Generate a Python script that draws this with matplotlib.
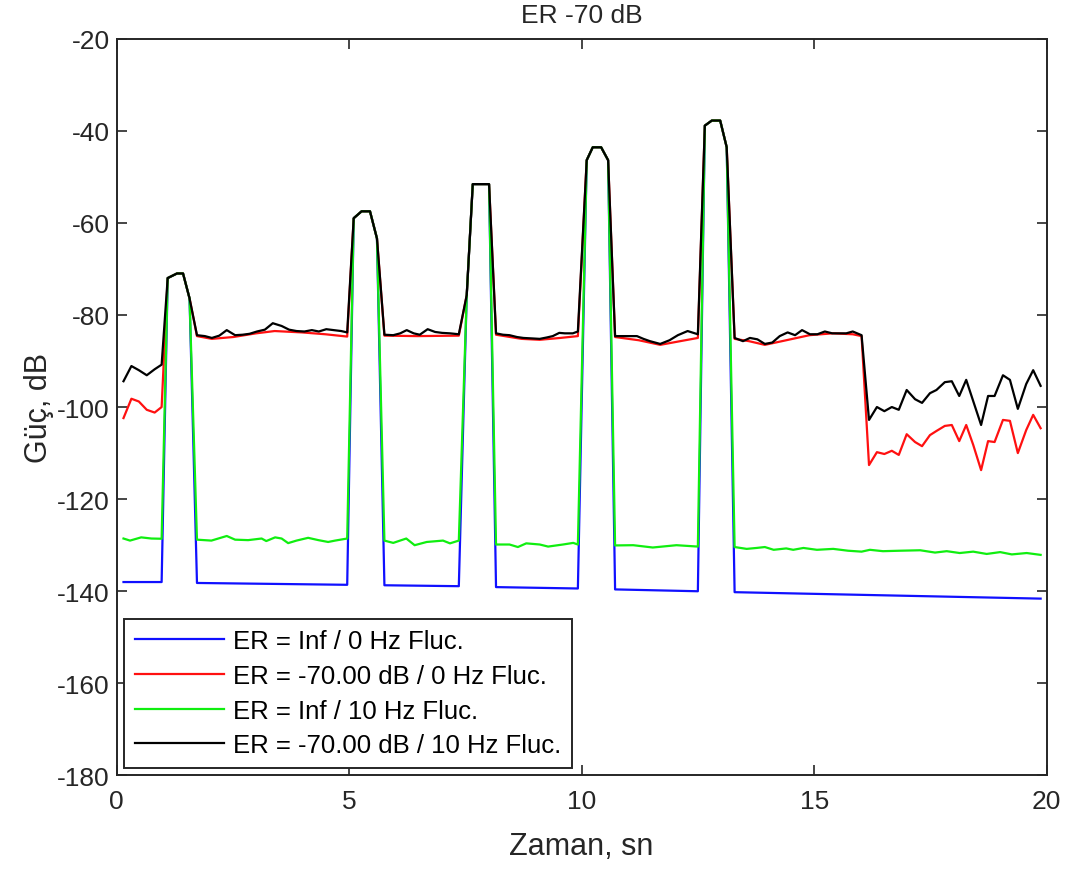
import matplotlib
matplotlib.use("Agg")
import matplotlib.pyplot as plt

plt.rcParams['font.family'] = ['Liberation Sans', 'DejaVu Sans']
plt.rcParams['axes.unicode_minus'] = False

title = "ER -70 dB"
xlabel = "Zaman, sn"
ylabel = "Güç, dB"
labels = ["ER = Inf / 0 Hz Fluc.",
          "ER = -70.00 dB / 0 Hz Fluc.",
          "ER = Inf / 10 Hz Fluc.",
          "ER = -70.00 dB / 10 Hz Fluc."]
xticks = [0, 5, 10, 15, 20]
yticks = [-180, -160, -140, -120, -100, -80, -60, -40, -20]

# Pulse interior points (shared by all four series)
pulse_t = [[1.10, 1.30, 1.43, 1.57],
           [5.10, 5.27, 5.45, 5.60],
           [7.53, 7.66, 8.01],
           [10.11, 10.24, 10.42, 10.57],
           [12.65, 12.80, 12.98, 13.12]]
pulse_v = [[-72.0, -71.0, -71.0, -76.4],
           [-59.0, -57.5, -57.5, -63.4],
           [-75.7, -51.6, -51.6],
           [-46.4, -43.6, -43.6, -46.4],
           [-38.9, -37.8, -37.8, -43.6]]

# Baseline segments between pulses, per series
blue_t = [[0.15, 0.97], [1.73, 4.96], [5.76, 7.36], [8.16, 9.92], [10.72, 12.50], [13.29, 19.87]]
blue_v = [[-138.0, -138.0], [-138.2, -138.6], [-138.7, -138.9], [-139.1, -139.4], [-139.6, -140.0], [-140.2, -141.6]]

red_t = [[0.15, 0.32, 0.48, 0.65, 0.82, 0.97],
         [1.73, 2.05, 2.51, 3.00, 3.40, 3.99, 4.49, 4.96],
         [5.76, 6.47, 7.36],
         [8.16, 8.71, 9.10, 9.54, 9.92],
         [10.72, 11.23, 11.69, 12.12, 12.50],
         [13.29, 13.60, 13.94, 14.40, 14.90, 15.40, 15.83, 16.02,
          16.18, 16.35, 16.51, 16.67, 16.82, 16.99, 17.17, 17.32, 17.49, 17.63, 17.81, 17.96,
          18.12, 18.27, 18.42, 18.59, 18.74, 18.88, 19.06, 19.21, 19.38, 19.56, 19.71, 19.87]]
red_v = [[-102.4, -98.2, -98.8, -100.6, -101.2, -100.0],
         [-84.6, -85.2, -84.8, -84.0, -83.5, -83.8, -84.2, -84.7],
         [-84.5, -84.6, -84.5],
         [-84.3, -85.2, -85.4, -85.0, -84.6],
         [-84.8, -85.5, -86.5, -85.7, -85.0],
         [-85.2, -85.7, -86.5, -85.5, -84.4, -84.0, -84.2, -84.6,
          -112.6, -109.8, -110.2, -109.5, -110.4, -105.9, -107.6, -108.5, -106.1, -105.2, -104.1, -103.9,
          -107.4, -103.9, -108.2, -113.7, -107.4, -107.6, -102.8, -103.0, -110.0, -105.0, -101.7, -104.6]]

green_t = [[0.15, 0.29, 0.53, 0.75, 0.97],
           [1.73, 2.04, 2.37, 2.55, 2.83, 3.12, 3.22, 3.41, 3.55, 3.69, 3.87, 4.12, 4.34, 4.55, 4.70, 4.96],
           [5.76, 5.95, 6.23, 6.41, 6.67, 7.02, 7.17, 7.36],
           [8.16, 8.45, 8.63, 8.81, 9.10, 9.28, 9.60, 9.82, 9.92],
           [10.72, 11.11, 11.53, 12.04, 12.50],
           [13.29, 13.55, 13.76, 13.94, 14.13, 14.40, 14.55, 14.77, 15.06, 15.41, 15.73, 16.02, 16.20,
            16.48, 16.84, 17.28, 17.60, 17.85, 18.13, 18.42, 18.71, 19.00, 19.25, 19.57, 19.87]]
green_v = [[-128.55, -129.0, -128.3, -128.55, -128.6],
           [-128.8, -129.0, -128.0, -128.8, -128.9, -128.55, -129.1, -128.3, -128.55, -129.55, -129.0,
            -128.4, -128.9, -129.3, -129.0, -128.55],
           [-129.0, -129.5, -128.55, -130.0, -129.3, -129.0, -129.6, -129.0],
           [-129.85, -129.85, -130.4, -129.6, -129.85, -130.3, -129.85, -129.5, -129.85],
           [-130.05, -130.0, -130.5, -130.0, -130.3],
           [-130.4, -130.8, -130.6, -130.4, -131.0, -130.7, -131.0, -130.6, -131.0, -130.8, -131.2, -131.4,
            -131.0, -131.3, -131.2, -131.1, -131.6, -131.3, -131.7, -131.4, -131.9, -131.5, -132.0, -131.7,
            -132.1]]

black_t = [[0.15, 0.32, 0.48, 0.65, 0.82, 0.97],
           [1.73, 1.90, 2.05, 2.21, 2.37, 2.55, 2.71, 2.86, 3.02, 3.19, 3.36, 3.55, 3.71, 3.87, 4.04,
            4.20, 4.35, 4.51, 4.67, 4.83, 4.96],
           [5.76, 5.95, 6.10, 6.24, 6.39, 6.52, 6.69, 6.85, 7.00, 7.17, 7.36],
           [8.16, 8.31, 8.45, 8.61, 8.75, 8.93, 9.10, 9.25, 9.38, 9.52, 9.64, 9.81, 9.92],
           [10.72, 10.93, 11.19, 11.33, 11.47, 11.69, 11.89, 12.07, 12.28, 12.50],
           [13.29, 13.47, 13.62, 13.78, 13.94, 14.10, 14.26, 14.43, 14.59, 14.74, 14.91, 15.07, 15.23,
            15.39, 15.55, 15.69, 15.83, 16.02,
            16.18, 16.35, 16.51, 16.67, 16.82, 16.99, 17.17, 17.32, 17.49, 17.63, 17.81, 17.96,
            18.12, 18.27, 18.42, 18.59, 18.74, 18.88, 19.06, 19.21, 19.38, 19.56, 19.71, 19.87]]
black_v = [[-94.4, -91.1, -92.0, -93.1, -91.8, -90.8],
           [-84.4, -84.6, -85.0, -84.5, -83.3, -84.4, -84.3, -84.1, -83.6, -83.2, -81.8, -82.4, -83.2,
            -83.5, -83.6, -83.3, -83.6, -83.1, -83.3, -83.5, -83.8],
           [-84.3, -84.4, -84.0, -83.3, -84.0, -84.3, -83.1, -83.7, -83.9, -84.0, -84.2],
           [-84.0, -84.3, -84.4, -84.8, -85.0, -85.1, -85.2, -84.9, -84.6, -83.9, -84.0, -84.0, -83.6],
           [-84.6, -84.6, -84.6, -85.2, -85.7, -86.3, -85.5, -84.4, -83.5, -84.2],
           [-85.0, -85.7, -85.0, -85.3, -86.3, -86.0, -84.6, -83.8, -84.4, -83.3, -84.2, -84.2, -83.6,
            -84.0, -84.0, -84.0, -83.6, -84.4,
            -102.8, -100.0, -100.9, -100.0, -100.6, -96.3, -98.3, -99.1, -97.0, -96.3, -94.6, -94.4,
            -97.6, -94.1, -98.7, -103.9, -97.6, -97.6, -93.1, -94.1, -100.4, -95.0, -92.0, -95.4]]


def assemble(base_t, base_v):
    tt, vv = [], []
    for i in range(len(base_t)):
        tt += base_t[i]
        vv += base_v[i]
        if i < len(pulse_t):
            tt += pulse_t[i]
            vv += pulse_v[i]
    return tt, vv


series = [(blue_t, blue_v, '#1010FF'),
          (red_t, red_v, '#FF1010'),
          (green_t, green_v, '#10EE10'),
          (black_t, black_v, '#000000')]

fig = plt.figure(figsize=(10.7, 8.7), dpi=100)
ax = fig.add_axes([0.1089, 0.1075, 0.8693, 0.847])

for (bt, bv, col), lab in zip(series, labels):
    tt, vv = assemble(bt, bv)
    ax.plot(tt, vv, color=col, lw=1.6, label=lab)

ax.set_xlim(0, 20)
ax.set_ylim(-180, -20)
ax.set_xticks(xticks)
ax.set_yticks(yticks)
ax.tick_params(direction='in', top=True, right=True, length=7, width=1.2,
               labelsize=19, colors='#262626')
ax.tick_params(axis='x', pad=10)
ax.tick_params(axis='y', pad=5)
for s in ax.spines.values():
    s.set_color('#262626')
    s.set_linewidth(1.4)

ax.set_title(title, fontsize=19, pad=12, color='#262626')
ax.set_xlabel(xlabel, fontsize=22, labelpad=13, color='#262626')
ax.set_ylabel(ylabel, fontsize=22, labelpad=2, color='#262626')

leg = ax.legend(loc='lower left', fontsize=18.5, fancybox=False, framealpha=1,
                edgecolor='#262626', handlelength=3.5, handletextpad=0.35,
                labelspacing=0.42, borderaxespad=0.3, borderpad=0.4)
leg.get_frame().set_linewidth(1.4)

fig.savefig("out.png", dpi=100)
